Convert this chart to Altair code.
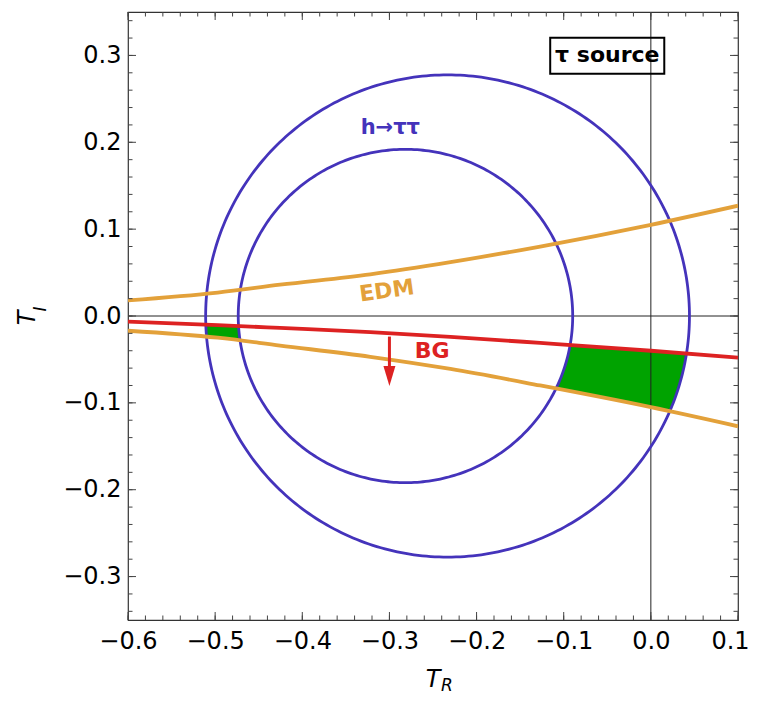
import altair as alt
import numpy as np
import pandas as pd

# ---------------- data ----------------
x_major = [-0.6, -0.5, -0.4, -0.3, -0.2, -0.1, 0.0, 0.1]
y_major = [-0.3, -0.2, -0.1, 0.0, 0.1, 0.2, 0.3]
x_minor = [round(-0.6 + 0.02 * i, 2) for i in range(36)]
y_minor = [round(-0.34 + 0.02 * i, 2) for i in range(35)]

circle_names = ["outer", "inner"]
circle_cx = [-0.2333, -0.2816]
circle_cy = [0.0, 0.0]
circle_r = [0.2776, 0.1919]

curve_x = [-0.6, -0.497, -0.4255, -0.322, -0.23, -0.127, 0.0, 0.1]
edm_upper = [0.018, 0.027, 0.036, 0.048, 0.062, 0.080, 0.105, 0.127]
edm_lower = [-0.017, -0.025, -0.034, -0.047, -0.061, -0.080, -0.105, -0.127]
bg_y = [-0.0065, -0.0105, -0.0137, -0.0185, -0.0240, -0.031, -0.040, -0.048]

BLUE = "#4433bb"
ORANGE = "#e3a13a"
RED = "#dd2222"
GREEN = "#00a300"
FONT = "DejaVu Sans"

W, H = 610, 608

# ---------------- derived tables ----------------
circ_rows = []
for name, cx, cy, r in zip(circle_names, circle_cx, circle_cy, circle_r):
    t = np.linspace(0, 2 * np.pi, 361)
    for i, tt in enumerate(t):
        circ_rows.append({"circle": name, "i": i, "x": cx + r * np.cos(tt), "y": cy + r * np.sin(tt)})
circ_df = pd.DataFrame(circ_rows)

curves_df = pd.DataFrame({
    "x": curve_x * 3,
    "y": edm_upper + edm_lower + bg_y,
    "curve": ["EDM+"] * len(curve_x) + ["EDM-"] * len(curve_x) + ["BG"] * len(curve_x),
})

# allowed (green) region: below BG, above EDM lower, inside outer circle, outside inner circle
xs = np.linspace(-0.52, 0.05, 4000)
bgv = np.interp(xs, curve_x, bg_y)
elv = np.interp(xs, curve_x, edm_lower)
co, ro = circle_cx[0], circle_r[0]
ci, ri = circle_cx[1], circle_r[1]
d_o = ro ** 2 - (xs - co) ** 2
d_i = ri ** 2 - (xs - ci) ** 2
yo = np.where(d_o >= 0, circle_cy[0] - np.sqrt(np.clip(d_o, 0, None)), np.nan)
yi = np.where(d_i >= 0, circle_cy[1] - np.sqrt(np.clip(d_i, 0, None)), 1.0)
top = np.minimum(bgv, yi)
bot = np.maximum(elv, np.nan_to_num(yo, nan=1.0))
valid = (d_o >= 0) & (top > bot)
left_mask = valid & (xs < -0.3)
right_mask = valid & (xs > -0.3)
green_left = pd.DataFrame({"x": xs[left_mask], "y": top[left_mask], "y2": bot[left_mask]})
green_right = pd.DataFrame({"x": xs[right_mask], "y": top[right_mask], "y2": bot[right_mask]})

xscale = alt.Scale(domain=[-0.6, 0.1], nice=False, zero=False)
yscale = alt.Scale(domain=[-0.35, 0.35], nice=False, zero=False)
xaxis = alt.Axis(values=x_major, format=".1f", title=None, ticks=False, domain=False, grid=False,
                 labelFontSize=24, labelFont=FONT, labelColor="black", labelPadding=9,
                 labelFlush=False, labelOverlap=False,
                 labelOffset=alt.condition("datum.value > 0.05", alt.value(-8), alt.value(0)))
yaxis = alt.Axis(values=y_major, format=".1f", title=None, ticks=False, domain=False, grid=False,
                 labelFontSize=24, labelFont=FONT, labelColor="black", labelPadding=7,
                 labelFlush=False, labelOverlap=False)


def X(f="x"):
    return alt.X(f"{f}:Q", scale=xscale, axis=xaxis)


def Y(f="y"):
    return alt.Y(f"{f}:Q", scale=yscale, axis=yaxis, stack=None)


green_layers = [
    alt.Chart(df).mark_area(color=GREEN, clip=True, opacity=1).encode(x=X(), y=Y(), y2=alt.Y2("y2:Q"))
    for df in (green_left, green_right)
]

zero_v = alt.Chart(pd.DataFrame({"x": [0.0]})).mark_rule(color="#222", strokeWidth=1).encode(x=X())
zero_h = alt.Chart(pd.DataFrame({"y": [0.0]})).mark_rule(color="#222", strokeWidth=1).encode(y=Y())

circles = alt.Chart(circ_df).mark_line(color=BLUE, strokeWidth=2.8, clip=True).encode(
    x=X(), y=Y(), detail="circle:N", order="i:Q")

edm = alt.Chart(curves_df[curves_df.curve != "BG"]).mark_line(
    color=ORANGE, strokeWidth=3.8, clip=True, interpolate="monotone").encode(
    x=X(), y=Y(), detail="curve:N", order="x:Q")
bg = alt.Chart(curves_df[curves_df.curve == "BG"]).mark_line(
    color=RED, strokeWidth=3.8, clip=True, interpolate="monotone").encode(x=X(), y=Y(), order="x:Q")

arrow_df = pd.DataFrame({"x": [-0.3], "y": [-0.0237], "y2": [-0.062], "yh": [-0.069]})
arrow_line = alt.Chart(arrow_df).mark_rule(color=RED, strokeWidth=3).encode(x=X(), y=Y(), y2=alt.Y2("y2:Q"))
arrow_head = alt.Chart(arrow_df).mark_point(
    shape="M-0.6,-1L0.6,-1L0,1Z", size=400, filled=True, color=RED, opacity=1, strokeWidth=0).encode(
    x=X(), y=Y("yh"))


def label(txt, x, y, color, size, angle=0):
    return alt.Chart(pd.DataFrame({"x": [x], "y": [y], "t": [txt]})).mark_text(
        font=FONT, fontWeight="bold", fontSize=size, color=color, angle=angle,
        align="center", baseline="middle").encode(x=X(), y=Y(), text="t:N")


lab_h = label("h→ττ", -0.299, 0.217, BLUE, 21)
lab_edm = label("EDM", -0.303, 0.029, ORANGE, 22, angle=352)
lab_bg = label("BG", -0.251, -0.040, RED, 22)
lab_src = label("τ source", -0.050, 0.300, "black", 22)

box = alt.Chart(pd.DataFrame({"x": [-0.1155], "x2": [0.0154], "y": [0.279], "y2": [0.3203]})).mark_rect(
    fillOpacity=0, stroke="black", strokeWidth=2).encode(x=X(), x2=alt.X2("x2:Q"), y=Y(), y2=alt.Y2("y2:Q"))

# frame ticks (inward on all four sides)
TC = "#444"
xmaj_df = pd.DataFrame({"x": x_major})
xmin_df = pd.DataFrame({"x": x_minor})
ymaj_df = pd.DataFrame({"y": y_major})
ymin_df = pd.DataFrame({"y": y_minor})
ticks = [
    alt.Chart(xmaj_df).mark_rule(color=TC).encode(x=X(), y=alt.value(H), y2=alt.value(H - 8)),
    alt.Chart(xmin_df).mark_rule(color=TC).encode(x=X(), y=alt.value(H), y2=alt.value(H - 4.5)),
    alt.Chart(xmaj_df).mark_rule(color=TC).encode(x=X(), y=alt.value(0), y2=alt.value(8)),
    alt.Chart(xmin_df).mark_rule(color=TC).encode(x=X(), y=alt.value(0), y2=alt.value(4.5)),
    alt.Chart(ymaj_df).mark_rule(color=TC).encode(y=Y(), x=alt.value(0), x2=alt.value(8)),
    alt.Chart(ymin_df).mark_rule(color=TC).encode(y=Y(), x=alt.value(0), x2=alt.value(4.5)),
    alt.Chart(ymaj_df).mark_rule(color=TC).encode(y=Y(), x=alt.value(W), x2=alt.value(W - 8)),
    alt.Chart(ymin_df).mark_rule(color=TC).encode(y=Y(), x=alt.value(W), x2=alt.value(W - 4.5)),
]

# axis titles  T_R  and  T_I
one = pd.DataFrame({"a": [0]})


def ptext(txt, px, py, size, angle=0):
    return alt.Chart(one).mark_text(
        text=txt, font=FONT, fontStyle="italic", fontSize=size, color="black", angle=angle,
        align="center", baseline="middle").encode(x=alt.value(px), y=alt.value(py))


titles = [
    ptext("T", 305, 668, 24),
    ptext("R", 319, 674, 17),
    ptext("T", -100, 306, 24, angle=270),
    ptext("I", -87, 297, 17, angle=270),
]

chart = alt.layer(
    *green_layers, zero_v, zero_h, circles, edm, bg, arrow_line, arrow_head,
    lab_h, lab_edm, lab_bg, box, lab_src, *ticks, *titles
).properties(
    width=W, height=H,
    autosize=alt.AutoSizeParams(type="none"),
    padding={"left": 120, "top": 4, "right": 12, "bottom": 74},
).configure_view(stroke="#333", strokeWidth=1.2)

chart.save("out.html", embed_options={"renderer": "svg", "actions": False})
